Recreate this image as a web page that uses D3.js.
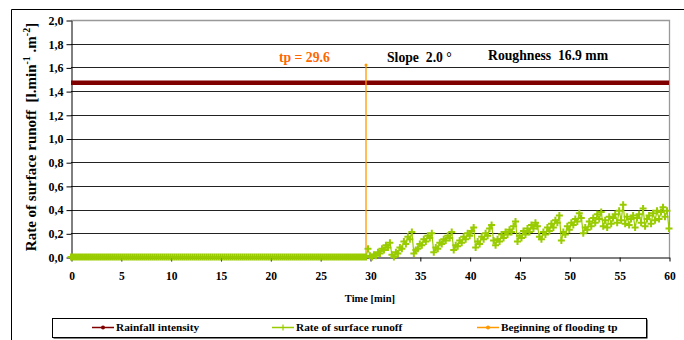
<!DOCTYPE html>
<html><head><meta charset="utf-8">
<script src="https://cdn.jsdelivr.net/npm/d3@7"></script>
<style>
body{margin:0;background:#fff}
svg{display:block}
text{font-family:"Liberation Serif","Times New Roman",Times,serif;font-weight:bold;fill:#000;white-space:pre}
</style>
</head><body>
<svg id="c" width="684" height="340"></svg>
<script>
// ---- data ----
const yTicks = [0, 0.2, 0.4, 0.6, 0.8, 1.0, 1.2, 1.4, 1.6, 1.8, 2.0];
const yTickLabels = ["0,0","0,2","0,4","0,6","0,8","1,0","1,2","1,4","1,6","1,8","2,0"];
const xTicks = [0, 5, 10, 15, 20, 25, 30, 35, 40, 45, 50, 55, 60];
const xTickLabels = ["0","5","10","15","20","25","30","35","40","45","50","55","60"];

const rainfallTime = [0, 60];
const rainfallValue = [1.47, 1.47];

const floodTime = [29.6, 29.6];
const floodValue = [0, 1.62];

const runoffStart = 0;
const runoffStep = 0.2;
const runoffValue = [
  0,0,0,0,0,0,0,0,0,0,
  0,0,0,0,0,0,0,0,0,0,
  0,0,0,0,0,0,0,0,0,0,
  0,0,0,0,0,0,0,0,0,0,
  0,0,0,0,0,0,0,0,0,0,
  0,0,0,0,0,0,0,0,0,0,
  0,0,0,0,0,0,0,0,0,0,
  0,0,0,0,0,0,0,0,0,0,
  0,0,0,0,0,0,0,0,0,0,
  0,0,0,0,0,0,0,0,0,0,
  0,0,0,0,0,0,0,0,0,0,
  0,0,0,0,0,0,0,0,0,0,
  0,0,0,0,0,0,0,0,0,0,
  0,0,0,0,0,0,0,0,0,0,
  0,0,0,0,0,0,0,0,0,
  0.07,0.01,0.0,0.02,0.01,0.04,0.03,0.07,0.06,0.10,0.08,0.12,0.02,
  0.0,0.04,0.03,0.08,0.07,0.13,0.11,0.17,0.15,0.21,0.03,
  0.06,0.07,0.11,0.10,0.15,0.13,0.18,0.16,0.20,0.04,
  0.08,0.07,0.12,0.11,0.15,0.14,0.18,0.16,0.21,0.06,
  0.10,0.09,0.14,0.12,0.17,0.15,0.20,0.18,0.22,0.25,0.08,
  0.13,0.11,0.17,0.15,0.20,0.18,0.24,0.27,0.14,0.10,
  0.15,0.13,0.19,0.16,0.21,0.19,0.23,0.21,0.26,0.30,0.13,
  0.18,0.16,0.22,0.19,0.24,0.21,0.27,0.24,0.29,0.26,0.17,
  0.15,0.21,0.19,0.25,0.22,0.28,0.25,0.31,0.29,0.35,0.14,
  0.21,0.19,0.26,0.23,0.29,0.27,0.32,0.30,0.37,0.33,0.20,
  0.25,0.23,0.30,0.26,0.33,0.29,0.36,0.32,0.38,0.26,
  0.31,0.25,0.34,0.28,0.33,0.36,0.29,0.39,0.31,0.44,0.28,
  0.34,0.27,0.32,0.35,0.25,0.33,0.36,0.29,0.41,0.26,
  0.32,0.35,0.28,0.37,0.31,0.39,0.32,0.38,0.42,0.34,0.39,0.24
];

const seriesNames = ["Rainfall intensity", "Rate of surface runoff", "Beginning of flooding tp"];
const seriesColors = ["#800000", "#99CC00", "#FF9900"];
const tpLabel = "tp = 29.6";
const slopeLabel = "Slope  2.0 °";
const roughLabel = "Roughness  16.9 mm";
const xTitle = "Time [min]";

// ---- drawing ----
const svg = d3.select("#c");
const L = 71, R = 669, T = 20, B = 257;
const x = d3.scaleLinear().domain([0, 60]).range([L, R]);
const y = d3.scaleLinear().domain([0, 2]).range([B, T]);
const FONT = "Liberation Serif, Times New Roman, serif";

// outer frame (partially visible)
svg.append("path").attr("d", "M11.5,340V9.5H684").attr("fill","none").attr("stroke","#000").attr("stroke-width",1);

// plot background
svg.append("rect").attr("x", L).attr("y", T).attr("width", R - L).attr("height", B - T).attr("fill", "#fff");

// gridlines
svg.append("g").selectAll("line").data(yTicks.filter(d => d > 0 && d < 2)).join("line")
  .attr("x1", L).attr("x2", R)
  .attr("y1", d => Math.round(y(d)) + 0.5).attr("y2", d => Math.round(y(d)) + 0.5)
  .attr("stroke", "#222").attr("stroke-width", 1);

// plot border top/right (gray)
svg.append("path").attr("d", `M${L},${Math.round(y(2))+0.5}H${R+0.5}V${B}`)
  .attr("fill","none").attr("stroke","#999").attr("stroke-width",1.3);

// y axis
const ya = svg.append("g").attr("transform", `translate(${L+0.5},0.5)`)
  .call(d3.axisLeft(y).tickValues(yTicks).tickFormat((d,i) => yTickLabels[i]).tickSize(5).tickSizeOuter(0).tickPadding(3));
ya.attr("font-family", FONT);
ya.select(".domain").attr("stroke","#000");
ya.selectAll("line").attr("stroke","#000");
ya.selectAll("text").attr("font-size", 12).attr("font-weight","bold");

// x axis
const xa = svg.append("g").attr("transform", `translate(0.5,${B+0.5})`)
  .call(d3.axisBottom(x).tickValues(xTicks).tickFormat((d,i) => xTickLabels[i]).tickSize(4).tickSizeOuter(0).tickPadding(10));
xa.attr("font-family", FONT);
xa.select(".domain").attr("stroke","#000");
xa.selectAll("line").attr("stroke","#000");
xa.selectAll("text").attr("font-size", 11.5).attr("font-weight","bold");

// x title
svg.append("text").attr("x", 370).attr("y", 302).attr("text-anchor","middle").attr("font-size", 10.5).text(xTitle);

// y title
const yt = svg.append("text").attr("transform", "translate(36,137) rotate(-90)").attr("text-anchor","middle").attr("font-size", 15);
yt.append("tspan").text("Rate of surface runoff  [l.min");
yt.append("tspan").attr("font-size", 10).attr("dy", -6).text("-1");
yt.append("tspan").attr("dy", 6).text(" .m");
yt.append("tspan").attr("font-size", 10).attr("dy", -6).text("-2");
yt.append("tspan").attr("dy", 6).text("]");

// rainfall
const rain = rainfallTime.map((t,i) => [t, rainfallValue[i]]);
svg.append("path").datum(rain)
  .attr("d", d3.line().x(d => x(d[0])).y(d => y(d[1])))
  .attr("fill","none").attr("stroke", seriesColors[0]).attr("stroke-width", 4.5);

// flooding line
const flood = floodTime.map((t,i) => [t, floodValue[i]]);
svg.append("path").datum(flood)
  .attr("d", d3.line().x(d => x(d[0])).y(d => y(d[1])))
  .attr("fill","none").attr("stroke", seriesColors[2]).attr("stroke-width", 1.3);
svg.append("g").selectAll("circle").data(flood).join("circle")
  .attr("cx", d => x(d[0])).attr("cy", d => y(d[1])).attr("r", 1.5).attr("fill", seriesColors[2]);

// runoff
const runoff = runoffValue.map((v,i) => [runoffStart + i * runoffStep, v]);
svg.append("path").datum(runoff)
  .attr("d", d3.line().x(d => x(d[0])).y(d => y(d[1])))
  .attr("fill","none").attr("stroke", seriesColors[1]).attr("stroke-width", 1.2);
svg.append("g").selectAll("path").data(runoff).join("path")
  .attr("transform", d => `translate(${x(d[0])},${y(d[1])})`)
  .attr("d", "M-3.5,0H3.5M0,-3.5V3.5")
  .attr("stroke", seriesColors[1]).attr("stroke-width", 2).attr("fill","none");

// annotations
svg.append("text").attr("x", 279).attr("y", 62).attr("font-size", 13.7).style("fill", "#FF6600").text(tpLabel);
svg.append("text").attr("x", 387).attr("y", 62).attr("font-size", 13.7).text(slopeLabel);
svg.append("text").attr("x", 488).attr("y", 60).attr("font-size", 13.7).text(roughLabel);

// legend
svg.append("rect").attr("x", 53.5).attr("y", 319.5).attr("width", 594).attr("height", 19).attr("fill","#000");
svg.append("rect").attr("x", 52.5).attr("y", 318.5).attr("width", 594).attr("height", 19).attr("fill","#fff").attr("stroke","#000").attr("stroke-width",1);
const legX = [92, 272, 477];
const lg = svg.append("g").selectAll("g").data(seriesNames).join("g")
  .attr("transform", (d,i) => `translate(${legX[i]},327.5)`);
lg.append("line").attr("x1", 0).attr("x2", 22).attr("stroke", (d,i) => seriesColors[i]).attr("stroke-width", 1.5);
lg.filter((d,i) => i !== 1).append("circle").attr("cx", 11).attr("r", 2).attr("fill", d => d === seriesNames[0] ? seriesColors[0] : seriesColors[2]);
lg.filter((d,i) => i === 1).append("path").attr("d", "M8,0H14M11,-3V3").attr("stroke", seriesColors[1]).attr("stroke-width", 1.2);
lg.append("text").attr("x", 24).attr("y", 3.5).attr("font-size", 11.3).text(d => d);
</script>
</body></html>
